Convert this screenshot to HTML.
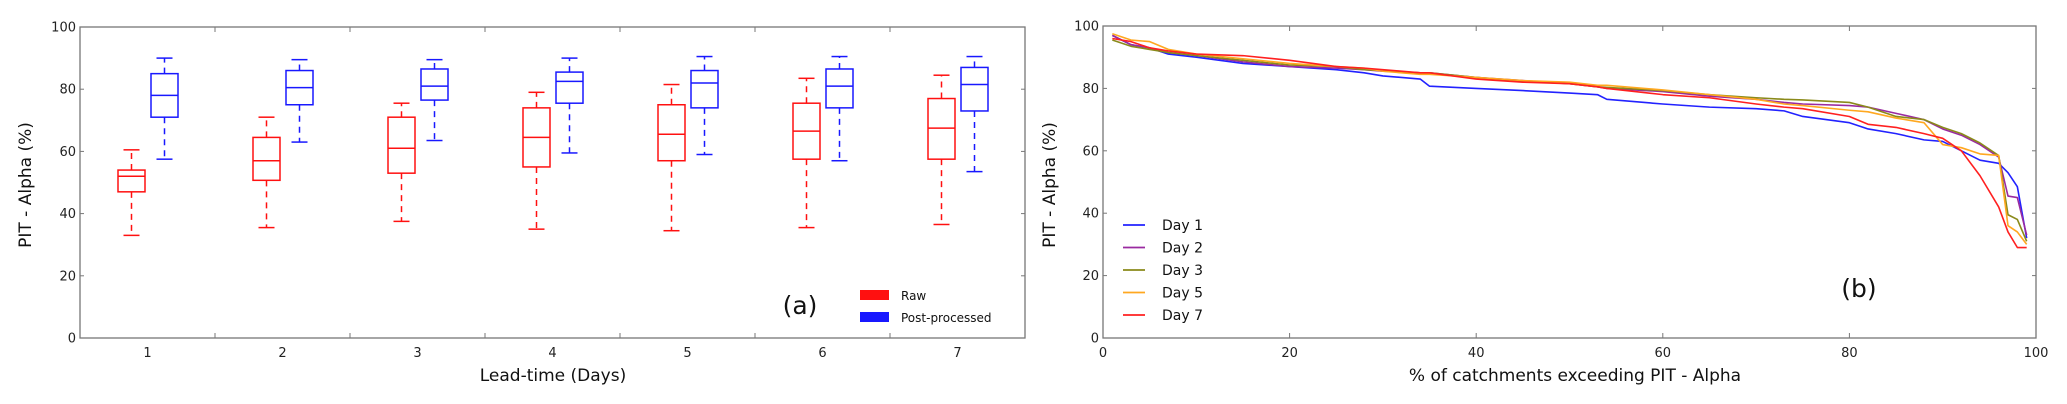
<!DOCTYPE html>
<html><head><meta charset="utf-8"><style>
html,body{margin:0;padding:0;background:#fff;}
svg{display:block;font-family:"DejaVu Sans","Liberation Sans",sans-serif;}
</style></head><body>
<svg id="s" width="2067" height="404"></svg>
<script>
// ---- Panel (a) data ----
const days = [1,2,3,4,5,6,7];
const rawLo  = [33,35.5,37.5,35,34.5,35.5,36.5];
const rawQ1  = [47,50.7,53,55,57,57.5,57.5];
const rawMed = [52,57,61,64.5,65.5,66.5,67.5];
const rawQ3  = [54,64.5,71,74,75,75.5,77];
const rawHi  = [60.5,71,75.5,79,81.5,83.5,84.5];
const ppLo  = [57.5,63,63.5,59.5,59,57,53.5];
const ppQ1  = [71,75,76.5,75.5,74,74,73];
const ppMed = [78,80.5,81,82.5,82,81,81.5];
const ppQ3  = [85,86,86.5,85.5,86,86.5,87];
const ppHi  = [90,89.5,89.5,90,90.5,90.5,90.5];
const yTicks = [0,20,40,60,80,100];
// ---- Panel (b) data ----
const xPct = [1,3,5,7,10,15,20,25,28,30,34,35,40,45,50,53,54,60,65,70,73,75,80,82,85,88,90,92,94,96,97,98,99];
const day1 = [97,94,93,91,90,88,87,86,85,84,83,80.7,80,79.3,78.5,78,76.5,75,74,73.5,72.8,71,69,67,65.5,63.5,63,60,57,56,53,48.5,32];
const day2 = [97,94,93,91.5,90.5,88.5,87,86.5,86,85.5,85,85,83.5,82.5,81.5,80.5,80,79,77.5,76.5,75.5,75,74.5,74,72,70,67,65,62,58,45.5,45,33];
const day3 = [95.5,93.5,92.5,91.5,90.5,89,87.5,87,86,85.7,85,85,83.5,82.3,81.5,80.5,80.3,79.3,78,77,76.5,76.3,75.5,74,71,70,67.5,65.5,62.5,58.5,39.5,38,31];
const day5 = [97.5,95.5,95,92.5,91,89.5,88,87,86.5,85.5,84.5,84.5,83.5,82.5,82,81,81,79.5,78,76.5,75,74.5,73,72.5,70.5,69,62,61,59,58.5,36,34,30];
const day7 = [96,95,93,92,91,90.5,89,87,86.5,86,85,85,83,82,81.5,80.5,80,78,77,75,74,73.5,71,68.5,67.5,65.5,64,60,52,42,34,29,29];
const xTicksB = [0,20,40,60,80,100];
const seriesNames = ['Day 1','Day 2','Day 3','Day 5','Day 7'];

const NS='http://www.w3.org/2000/svg';
const svg=document.getElementById('s');
function el(tag,attrs,parent,txt){const e=document.createElementNS(NS,tag);for(const k in attrs)e.setAttribute(k,attrs[k]);if(txt!==undefined)e.textContent=txt;(parent||svg).appendChild(e);return e;}

// ===== Panel A =====
const A={l:80,r:1025,t:27,b:338};
const ax=v=>A.l+(v-0.5)/7*(A.r-A.l);
const ay=v=>A.b-v/100*(A.b-A.t);
const gA=el('g',{});


function boxes(lo,q1,md,q3,hi,off,col,name){
  days.forEach((d,i)=>{
    const g=el('g',{},gA);
    
    
    const c=ax(d)+off, w=13.5, cw=8;
    el('line',{x1:c,x2:c,y1:ay(q3[i]),y2:ay(hi[i]),stroke:col,'stroke-width':1.5,'stroke-dasharray':'6,5'},g);
    el('line',{x1:c,x2:c,y1:ay(q1[i]),y2:ay(lo[i]),stroke:col,'stroke-width':1.5,'stroke-dasharray':'6,5'},g);
    el('line',{x1:c-cw,x2:c+cw,y1:ay(hi[i]),y2:ay(hi[i]),stroke:col,'stroke-width':1.5},g);
    el('line',{x1:c-cw,x2:c+cw,y1:ay(lo[i]),y2:ay(lo[i]),stroke:col,'stroke-width':1.5},g);
    el('rect',{x:c-w,y:ay(q3[i]),width:2*w,height:ay(q1[i])-ay(q3[i]),fill:'none',stroke:col,'stroke-width':1.5},g);
    el('line',{x1:c-w,x2:c+w,y1:ay(md[i]),y2:ay(md[i]),stroke:col,'stroke-width':1.5},g);
  });
}
boxes(rawLo,rawQ1,rawMed,rawQ3,rawHi,-16,'#ff1010','raw');
boxes(ppLo,ppQ1,ppMed,ppQ3,ppHi,17,'#1818ff','post-processed');
const frA=el('rect',{x:A.l,y:A.t,width:A.r-A.l,height:A.b-A.t,fill:'none',stroke:'#777','stroke-width':1.3});


yTicks.forEach(v=>{
  const y=ay(v);
  el('line',{x1:A.l,x2:A.l+4,y1:y,y2:y,stroke:'#777'});
  el('line',{x1:A.r,x2:A.r-4,y1:y,y2:y,stroke:'#777'});
  const t=el('text',{x:A.l-4,y:y+4.5,'text-anchor':'end','font-size':13,fill:'#222'},svg,String(v));
  
  
});
for(let k=1;k<7;k++){const x=ax(k+0.5);el('line',{x1:x,x2:x,y1:A.b,y2:A.b-5,stroke:'#777'});el('line',{x1:x,x2:x,y1:A.t,y2:A.t+5,stroke:'#777'});}
days.forEach(d=>{
  const t=el('text',{x:ax(d),y:A.b+19,'text-anchor':'middle','font-size':13,fill:'#222'},svg,String(d));
  
  
});
</script>
<script>
(function(){
const NS='http://www.w3.org/2000/svg';const svg=document.getElementById('s');
function el(tag,attrs,txt){const e=document.createElementNS(NS,tag);for(const k in attrs)e.setAttribute(k,attrs[k]);if(txt!==undefined)e.textContent=txt;svg.appendChild(e);return e;}
let t;
t=el('text',{x:0,y:0,transform:'translate(31,185) rotate(-90)','text-anchor':'middle','font-size':17,fill:'#111'},'PIT - Alpha (%)');


t=el('text',{x:553,y:381,'text-anchor':'middle','font-size':17,fill:'#111'},'Lead-time (Days)');


t=el('text',{x:800,y:314,'text-anchor':'middle','font-size':25,fill:'#111'},'(a)');


let r=el('rect',{x:860,y:290,width:29,height:10,fill:'#ff1010'});


t=el('text',{x:901,y:300,'font-size':12,fill:'#111'},'Raw');


r=el('rect',{x:860,y:312,width:29,height:10,fill:'#1818ff'});


t=el('text',{x:901,y:322,'font-size':12,fill:'#111'},'Post-processed');


})();
</script>
<script>
// ===== Panel B =====
const B={l:1103,r:2036,t:26,b:338};
const bx=v=>B.l+v/100*(B.r-B.l);
const by=v=>B.b-v/100*(B.b-B.t);
const colsB=['#2222ff','#9a2aa0','#8a8a1a','#ffa820','#ff2020'];
const allB=[day1,day2,day3,day5,day7];
allB.forEach((ys,si)=>{
  const p=el('polyline',{points:xPct.map((x,i)=>bx(x)+','+by(ys[i])).join(' '),fill:'none',stroke:colsB[si],'stroke-width':1.6,'stroke-linejoin':'round'});
  
  
});
const frB=el('rect',{x:B.l,y:B.t,width:B.r-B.l,height:B.b-B.t,fill:'none',stroke:'#777','stroke-width':1.3});


yTicks.forEach(v=>{
  const y=by(v);
  el('line',{x1:B.l,x2:B.l+4,y1:y,y2:y,stroke:'#777'});
  el('line',{x1:B.r,x2:B.r-4,y1:y,y2:y,stroke:'#777'});
  const t=el('text',{x:B.l-4,y:y+4.5,'text-anchor':'end','font-size':13,fill:'#222'},svg,String(v));
  
  
});
xTicksB.forEach(v=>{
  const x=bx(v);
  el('line',{x1:x,x2:x,y1:B.b,y2:B.b-5,stroke:'#777'});
  el('line',{x1:x,x2:x,y1:B.t,y2:B.t+5,stroke:'#777'});
  const t=el('text',{x:x,y:B.b+19,'text-anchor':'middle','font-size':13,fill:'#222'},svg,String(v));
  
  
});
seriesNames.forEach((n,i)=>{
  const y=225+i*22.5;
  const l=el('line',{x1:1123,x2:1145,y1:y,y2:y,stroke:colsB[i],'stroke-width':1.8});
  
  
  const t=el('text',{x:1162,y:y+5,'font-size':14,fill:'#111'},svg,n);
  
  
});
let tb=el('text',{x:0,y:0,transform:'translate(1055,185) rotate(-90)','text-anchor':'middle','font-size':17,fill:'#111'},svg,'PIT - Alpha (%)');


tb=el('text',{x:1575,y:381,'text-anchor':'middle','font-size':17,fill:'#111'},svg,'% of catchments exceeding PIT - Alpha');


tb=el('text',{x:1859,y:297,'text-anchor':'middle','font-size':25,fill:'#111'},svg,'(b)');


</script>
</body></html>
